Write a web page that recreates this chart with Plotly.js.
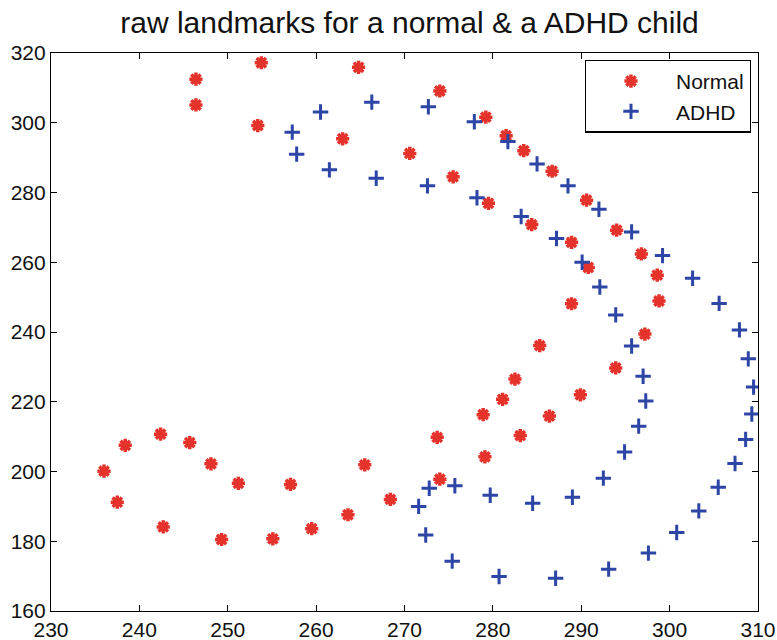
<!DOCTYPE html>
<html><head><meta charset="utf-8">
<script src="https://cdn.plot.ly/plotly-3.0.1.min.js"></script>
<style>html,body{margin:0;padding:0;background:#fff}#chart{width:777px;height:640px}</style>
</head><body><div id="chart"></div>
<script>
const normalX = [246.4,246.4,253.8,253.4,264.8,263.0,274.0,270.6,279.2,275.5,281.5,279.5,283.5,284.4,286.7,288.9,290.6,290.8,294.0,288.9,296.8,298.6,298.8,297.2,
  236.0,237.5,238.4,242.4,242.7,245.7,248.1,249.3,251.2,255.1,257.1,259.5,263.6,265.5,268.4,
  273.7,274.0,279.1,278.9,281.1,283.1,282.5,285.3,286.4,289.9,293.9];
const normalY = [312.5,305.1,317.2,299.2,315.9,295.4,309.1,291.2,301.6,284.5,296.3,276.9,292.0,270.8,286.1,265.7,277.8,258.5,269.2,248.1,262.4,256.3,248.9,239.4,
  200.1,191.2,207.5,210.7,184.1,208.3,202.2,180.5,196.6,180.7,196.3,183.6,187.6,201.9,192.0,
  209.8,197.8,204.2,216.3,220.7,210.3,226.5,236.1,215.9,222.0,229.7];
const adhdX = [257.3,257.8,260.5,261.5,266.3,266.8,272.7,277.9,272.6,281.7,278.2,285.0,283.2,288.5,287.2,292.0,290.1,295.7,292.1,299.2,293.9,302.6,305.6,307.9,
  271.6,272.8,272.4,275.7,275.4,279.7,280.7,284.5,287.1,289.0,293.1,292.5,297.6,294.9,300.8,296.5,303.3,297.3,305.5,297.0,295.7,307.4,308.6,309.3,309.5,308.9];
const adhdY = [297.3,291.0,303.1,286.5,305.9,284.1,304.6,300.3,281.9,294.6,278.5,288.2,273.1,281.9,266.8,275.2,260.0,268.7,252.9,261.9,244.9,255.4,248.2,240.6,
  190.0,195.2,181.8,195.9,174.3,193.2,169.9,190.9,169.4,192.6,172.0,198.1,176.6,205.6,182.5,213.0,188.7,220.2,195.5,227.3,236.0,202.3,209.2,216.5,224.2,232.3];
const xTicks = [230,240,250,260,270,280,290,300,310];
const yTicks = [160,180,200,220,240,260,280,300,320];

const traces = [
  {x: normalX, y: normalY, name: 'Normal', type: 'scatter', mode: 'markers',
   marker: {symbol: 'asterisk-open', size: 11, color: '#e5322b', line: {color: '#e5322b', width: 3.5}}},
  {x: adhdX, y: adhdY, name: 'ADHD', type: 'scatter', mode: 'markers',
   marker: {symbol: 'cross-thin-open', size: 11, color: '#2d46a6', line: {color: '#2d46a6', width: 3}}}
];
const axisCommon = {showline: true, linecolor: '#000', linewidth: 1.2, mirror: 'ticks', ticks: 'inside', ticklen: 6,
  tickcolor: '#000', showgrid: false, zeroline: false, tickfont: {family: 'Liberation Sans, Arial, sans-serif', size: 21, color: '#111'}};
const layout = {
  width: 777, height: 640,
  margin: {l: 51, r: 19, t: 53, b: 29},
  paper_bgcolor: '#fff', plot_bgcolor: '#fff',
  title: {text: 'raw landmarks for a normal &amp; a ADHD child', x: 0.527, xanchor: 'center', y: 0.965, yanchor: 'middle',
    font: {family: 'Liberation Sans, Arial, sans-serif', size: 30, color: '#111'}},
  xaxis: Object.assign({}, axisCommon, {range: [230, 310], tickvals: xTicks, ticktext: xTicks.map(String)}),
  yaxis: Object.assign({}, axisCommon, {range: [160, 320], tickvals: yTicks, ticktext: yTicks.map(String)}),
  showlegend: true,
  legend: {x: 0.755, y: 0.988, xanchor: 'left', yanchor: 'top', bgcolor: '#fff', bordercolor: '#000', borderwidth: 1.2,
    font: {family: 'Liberation Sans, Arial, sans-serif', size: 21, color: '#111'}, itemwidth: 80, tracegroupgap: 0}
};
Plotly.newPlot('chart', traces, layout, {displayModeBar: false});
</script></body></html>
